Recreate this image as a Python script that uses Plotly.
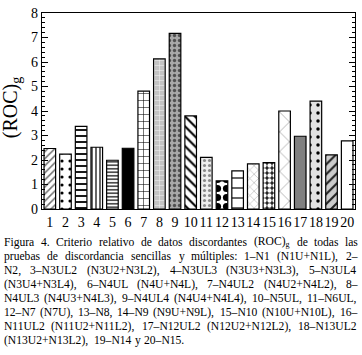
import re
import plotly.graph_objects as go

categories = [str(i) for i in range(1, 21)]
values = [2.47, 2.24, 3.37, 2.52, 1.99, 2.48, 4.81, 6.13, 7.17, 3.80,
          2.11, 1.15, 1.56, 1.84, 1.89, 4.00, 2.97, 4.40, 2.21, 2.78]
y_ticks = [0, 1, 2, 3, 4, 5, 6, 7, 8]

shapes = ["/", ".", "-", "|", "-", "-", "+", "+", ".", "\\",
          ".", ".", "-", "x", ".", "x", "-", ".", "/", "-"]
fgs = ["#707070", "#000000", "#000000", "#000000", "#000000", "#000000", "#000000", "#f4f4f4", "#505050", "#000000",
       "#8a8a8a", "#000000", "#000000", "#b4b4b4", "#ffffff", "#9a9a9a", "#808080", "#000000", "#222222", "#ffffff"]
bgs = ["#ffffff", "#ffffff", "#ffffff", "#ffffff", "#ffffff", "#000000", "#ffffff", "#c4c4c4", "#a8a8a8", "#ffffff",
       "#eeeeee", "#ffffff", "#ffffff", "#ffffff", "#1e1e1e", "#ffffff", "#808080", "#e2e2e2", "#cccccc", "#ffffff"]
sizes = [5, 8, 6, 4, 3.5, 8, 7, 5, 5, 7, 5, 9, 10, 6, 5, 14, 8, 8, 7, 8]
solid = [0.3, 0.12, 0.3, 0.3, 0.35, 0.5, 0.15, 0.2, 0.35, 0.3,
         0.3, 0.5, 0.12, 0.2, 0.6, 0.1, 0.5, 0.15, 0.3, 0.5]

caption = [
    "Figura 4. Criterio relativo de datos discordantes (ROC)<sub>g</sub> de todas las",
    "pruebas de discordancia sencillas y múltiples: 1–N1 (N1U+N1L), 2–",
    "N2, 3–N3UL2 (N3U2+N3L2), 4–N3UL3 (N3U3+N3L3), 5–N3UL4",
    "(N3U4+N3L4), 6–N4UL (N4U+N4L), 7–N4UL2 (N4U2+N4L2), 8–",
    "N4UL3 (N4U3+N4L3), 9–N4UL4 (N4U4+N4L4), 10–N5UL, 11–N6UL,",
    "12–N7 (N7U), 13–N8, 14–N9 (N9U+N9L), 15–N10 (N10U+N10L), 16–",
    "N11UL2 (N11U2+N11L2), 17–N12UL2 (N12U2+N12L2), 18–N13UL2",
    "(N13U2+N13L2), 19–N14 y 20–N15.",
]

FONT = "Liberation Serif, Times New Roman, serif"

# Times metrics (1/1000 em) used to justify caption lines
_W = {' ': 250, '(': 333, ')': 333, '+': 564, ',': 250, '-': 333, '.': 250, ':': 278, '–': 500, 'ú': 500}
_W.update({d: 500 for d in "0123456789"})
_W.update(dict(zip("ABCDEFGHIJKLMNOPQRSTUVWXYZ",
                   [722, 667, 667, 722, 611, 556, 722, 722, 333, 389, 722, 611, 889, 722, 722, 556, 722, 667,
                    556, 611, 722, 722, 944, 722, 722, 611])))
_W.update(dict(zip("abcdefghijklmnopqrstuvwxyz",
                   [444, 500, 444, 500, 444, 333, 500, 500, 278, 278, 500, 278, 778, 500, 500, 500, 500, 333,
                    389, 278, 500, 500, 722, 500, 500, 444])))


def text_width(word, size):
    total = 0.0
    parts = re.split(r"(<sub>.*?</sub>)", word)
    for p in parts:
        if p.startswith("<sub>"):
            inner = p[5:-6]
            total += 0.7 * sum(_W.get(c, 500) for c in inner)
        else:
            total += sum(_W.get(c, 500) for c in p)
    return total * size / 1000.0


fig = go.Figure(go.Bar(
    x=categories, y=values,
    marker=dict(
        color="white",
        line=dict(color="black", width=1.2),
        pattern=dict(shape=shapes, fgcolor=fgs, bgcolor=bgs, size=sizes,
                     solidity=solid, fillmode="replace"),
    ),
    width=0.74,
))

L, R, T, B = 42, 6, 9, 146
W, H = 362, 355
ph = H - T - B
pw = W - L - R


def py(p):
    return (H - B - p) / ph


def px(p):
    return (p - L) / pw


annotations = []
annotations.append(dict(text="(ROC)<sub>g</sub>", x=px(11), y=py(106), xref="paper", yref="paper",
                        showarrow=False, textangle=-90, font=dict(family=FONT, size=20, color="black"),
                        xanchor="center", yanchor="middle"))

line_y = [243, 257.3, 271.6, 285.9, 300.2, 314.5, 328.8, 343.1]
LEFT, RIGHT = 3.0, 358.0
MEASURE = 12.0
RENDER = 11.6
for li, (t, yy) in enumerate(zip(caption, line_y)):
    words = t.split(" ")
    widths = [text_width(w, MEASURE) for w in words]
    space = _W[' '] * MEASURE / 1000.0
    if li < len(caption) - 1 and len(words) > 1:
        gap = (RIGHT - LEFT - sum(widths)) / (len(words) - 1)
    else:
        gap = space
    xpos = LEFT
    for w, wd in zip(words, widths):
        annotations.append(dict(text=w, x=px(xpos - 1), y=py(yy), xref="paper", yref="paper",
                                showarrow=False, xanchor="left", yanchor="middle",
                                font=dict(family=FONT, size=RENDER, color="black")))
        xpos += wd + gap

fig.update_layout(
    width=W, height=H,
    margin=dict(l=L, r=R, t=T, b=B),
    paper_bgcolor="white", plot_bgcolor="white",
    showlegend=False,
    font=dict(family=FONT, size=14, color="black"),
    annotations=annotations,
)
fig.update_xaxes(showline=True, linecolor="black", linewidth=1.2, mirror=True,
                 ticks="", tickmode="array", tickvals=categories, ticktext=categories,
                 tickangle=0, tickfont=dict(size=14), showgrid=False)
fig.update_yaxes(range=[0, 8], tickvals=y_ticks, showline=True, linecolor="black", linewidth=1.2,
                 mirror="allticks", ticks="inside", ticklen=6, tickcolor="black",
                 minor=dict(ticks="inside", dtick=0.2, ticklen=3, tickcolor="black"),
                 showgrid=False, zeroline=False, tickfont=dict(size=14))

fig.write_html("out.html", config={"displayModeBar": False},
               post_script="document.body.style.margin='0';document.body.style.overflow='hidden';")
